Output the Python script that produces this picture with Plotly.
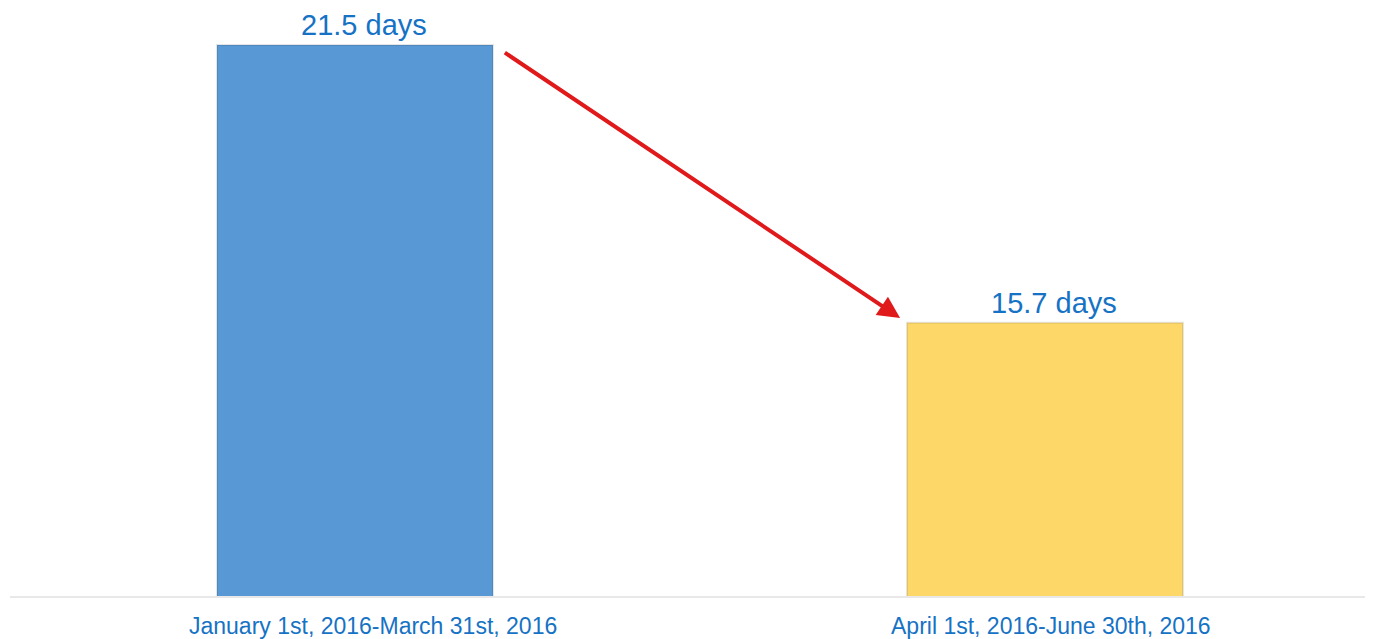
import plotly.graph_objects as go

categories = ["January 1st, 2016-March 31st, 2016", "April 1st, 2016-June 30th, 2016"]
values = [21.5, 15.7]
value_labels = ["21.5 days", "15.7 days"]
colors = ["#5898d4", "#fdd868"]

x_pos = list(range(len(categories)))
bar_w = 0.4

fig = go.Figure()
fig.add_trace(go.Bar(
    x=x_pos, y=values, width=bar_w,
    marker=dict(color=colors, line=dict(color="rgba(0,0,0,0.10)", width=2)),
    hoverinfo="skip",
))

font_family = "Liberation Sans, Arial, sans-serif"
blue_text = "#1672c4"

for xi, v, lab in zip(x_pos, values, value_labels):
    fig.add_annotation(x=xi, y=v, xref="x", yref="y", text=lab, showarrow=False,
                       yanchor="bottom", xshift=9, yshift=2,
                       font=dict(family=font_family, size=29, color=blue_text))

for xi, cat, xs in zip(x_pos, categories, [18, 6]):
    fig.add_annotation(x=xi, y=0, xref="x", yref="paper", text=cat, showarrow=False,
                       yanchor="middle", xshift=xs, yshift=-30,
                       font=dict(family=font_family, size=23, color=blue_text))

# arrow from top-right corner of first bar to top-left corner of second bar
fig.add_annotation(
    x=x_pos[1] - bar_w / 2 - 0.01, y=values[1] + 0.1,
    ax=x_pos[0] + bar_w / 2 + 0.015, ay=values[0] - 0.14,
    xref="x", yref="y", axref="x", ayref="y",
    showarrow=True, arrowhead=2, arrowsize=1.1, arrowwidth=4, arrowcolor="#e0191b", text="",
)

fig.update_layout(
    width=1365, height=631,
    margin=dict(l=2, r=0, t=0, b=43),
    paper_bgcolor="white", plot_bgcolor="white",
    showlegend=False,
    bargap=0.6,
    xaxis=dict(range=[-0.5, 1.4754], showticklabels=False, showgrid=False, zeroline=False,
               showline=True, linecolor="#e8e8e8", linewidth=2, fixedrange=True),
    yaxis=dict(range=[10, 22.27], visible=False, fixedrange=True),
)

fig.write_html("out.html")
